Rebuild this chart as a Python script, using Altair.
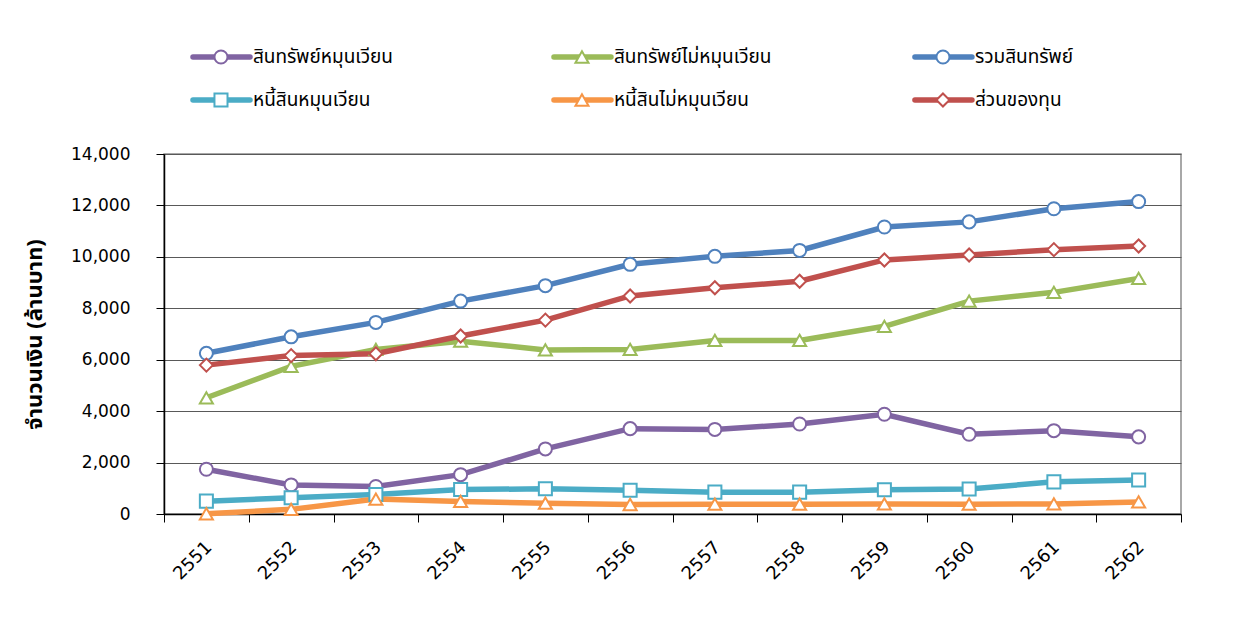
import altair as alt
import pandas as pd

years = [str(y) for y in range(2551, 2563)]

series_names = [
    "สินทรัพย์หมุนเวียน",
    "สินทรัพย์ไม่หมุนเวียน",
    "รวมสินทรัพย์",
    "หนี้สินหมุนเวียน",
    "หนี้สินไม่หมุนเวียน",
    "ส่วนของทุน",
]
series_colors = ["#8064A2", "#9BBB59", "#4F81BD", "#4BACC6", "#F79646", "#C0504D"]
series_shapes = ["circle", "triangle-up", "circle", "square", "triangle-up", "diamond"]

current_assets = [1740, 1130, 1070, 1530, 2530, 3320, 3290, 3500, 3880, 3100, 3240, 3000]
noncurrent_assets = [4520, 5740, 6400, 6720, 6380, 6400, 6750, 6750, 7300, 8280, 8620, 9160]
total_assets = [6250, 6890, 7450, 8280, 8880, 9710, 10020, 10250, 11160, 11360, 11870, 12150]
current_liabilities = [500, 630, 760, 950, 980, 920, 850, 850, 940, 970, 1250, 1320]
noncurrent_liabilities = [10, 180, 580, 490, 420, 370, 380, 380, 390, 380, 390, 470]
equity = [5790, 6160, 6230, 6920, 7540, 8480, 8800, 9050, 9880, 10070, 10280, 10420]

legend_col = [0, 1, 2, 0, 1, 2]
legend_row = [0, 0, 0, 1, 1, 1]

y_ticks = list(range(0, 14001, 2000))

all_values = [current_assets, noncurrent_assets, total_assets,
              current_liabilities, noncurrent_liabilities, equity]
records = []
for name, vals in zip(series_names, all_values):
    for yr, v in zip(years, vals):
        records.append({"year": yr, "series": name, "value": v})
df = pd.DataFrame(records)
leg = pd.DataFrame({"series": series_names, "col": legend_col, "row": legend_row})

THAI = "Tahoma, 'Noto Sans Thai', 'Noto Sans', sans-serif"
NUM = "DejaVu Sans"

color_scale = alt.Scale(domain=series_names, range=series_colors)
shape_scale = alt.Scale(domain=series_names, range=series_shapes)

W, H = 1017, 360

x_enc = alt.X(
    "year:O",
    scale=alt.Scale(type="band", paddingInner=0, paddingOuter=0),
    axis=alt.Axis(
        title=None, labelAngle=-45, tickBand="extent", grid=False,
        labelFont=NUM, labelFontSize=18, labelColor="black", labelPadding=16,
        labelOffset=-4,
        tickSize=8, tickColor="black", domainColor="black", domainWidth=1.5,
    ),
)
y_enc = alt.Y(
    "value:Q",
    scale=alt.Scale(domain=[0, 14000]),
    axis=alt.Axis(
        values=y_ticks, format=",.0f", title="จำนวนเงิน (ล้านบาท)",
        titleFont=THAI, titleFontSize=22, titleFontWeight="bold", titleColor="black",
        titlePadding=24,
        labelFont=NUM, labelFontSize=17, labelColor="black", labelPadding=26,
        tickSize=8, tickColor="black", domainColor="black", domainWidth=1.5,
        gridColor="#595959", gridWidth=1,
    ),
)

lines = alt.Chart(df).mark_line(strokeWidth=5.5).encode(
    x=x_enc, y=y_enc,
    color=alt.Color("series:N", scale=color_scale, legend=None),
    order=alt.Order("year:O"),
)
points = alt.Chart(df).mark_point(filled=True, size=170, strokeWidth=2, opacity=1).encode(
    x=x_enc, y=y_enc,
    fill=alt.value("white"),
    stroke=alt.Stroke("series:N", scale=color_scale, legend=None),
    shape=alt.Shape("series:N", scale=shape_scale, legend=None),
)
main = alt.layer(lines, points).properties(
    width=W, height=H,
    view=alt.ViewBackground(stroke="#8c8c8c", strokeWidth=1.5),
)

lx = alt.X("col:Q", scale=alt.Scale(domain=[-0.0803, 2.737], zero=False, nice=False), axis=None)
ly = alt.Y("row:Q", scale=alt.Scale(domain=[-0.558, 1.767], zero=False, nice=False, reverse=True), axis=None)
lg_rule = alt.Chart(leg).mark_rule(strokeWidth=5.5, x2Offset=57, strokeCap="round").encode(
    x=lx, x2="col:Q", y=ly,
    stroke=alt.Stroke("series:N", scale=color_scale, legend=None),
)
lg_point = alt.Chart(leg).mark_point(filled=True, size=170, strokeWidth=2, opacity=1, xOffset=28).encode(
    x=lx, y=ly,
    fill=alt.value("white"),
    stroke=alt.Stroke("series:N", scale=color_scale, legend=None),
    shape=alt.Shape("series:N", scale=shape_scale, legend=None),
)
lg_text = alt.Chart(leg).mark_text(align="left", baseline="middle", dx=60, font=THAI, fontSize=19, color="black").encode(
    x=lx, y=ly, text="series:N",
)
legend = alt.layer(lg_rule, lg_point, lg_text).properties(
    width=W, height=100,
    view=alt.ViewBackground(stroke=None),
)

chart = alt.vconcat(legend, main, spacing=11).properties(
    padding={"left": 14, "top": 25, "right": 5, "bottom": 5},
    background="white",
).configure_view(stroke=None)

chart.save("out.html", embed_options={"renderer": "svg", "actions": False})
